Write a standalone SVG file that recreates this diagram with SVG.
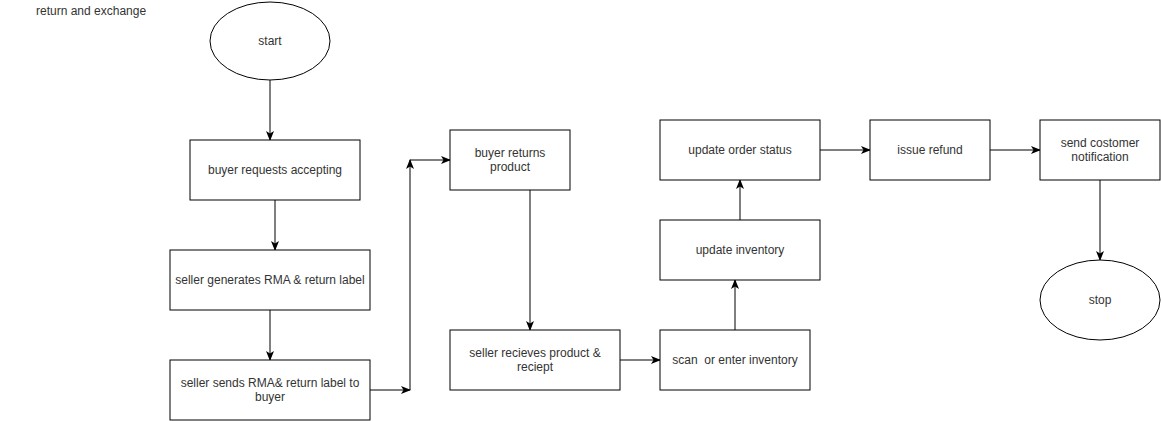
<svg xmlns="http://www.w3.org/2000/svg" width="1161" height="421" viewBox="0 0 1161 421">
<style>
  .shape { fill: #ffffff; stroke: #000000; stroke-width: 1; }
  .label { font-family: "Liberation Sans", Arial, sans-serif; font-size: 12px; fill: #333333; text-anchor: middle; }
  .title { font-family: "Liberation Sans", Arial, sans-serif; font-size: 12px; fill: #333333; }
  .edge { fill: none; stroke: #000000; stroke-width: 1; marker-end: url(#arrow); }
</style>
<defs>
  <marker id="arrow" viewBox="0 0 10 8" refX="9" refY="4" markerWidth="10" markerHeight="8" markerUnits="userSpaceOnUse" orient="auto">
    <path d="M0,0 L10,4 L0,8 L2.5,4 z" fill="#000000"/>
  </marker>
</defs>
<rect x="0" y="0" width="1161" height="421" fill="#ffffff"/>
<text class="title" x="36" y="15">return and exchange</text>

<g id="connectors">
  <line class="edge" x1="270" y1="80" x2="270" y2="140"/>
  <line class="edge" x1="275" y1="200" x2="275" y2="250"/>
  <line class="edge" x1="270" y1="310" x2="270" y2="360"/>
  <line class="edge" x1="370" y1="390" x2="410" y2="390"/>
  <line class="edge" x1="410" y1="390" x2="410" y2="160"/>
  <line class="edge" x1="410" y1="160" x2="450" y2="160"/>
  <line class="edge" x1="530" y1="190" x2="530" y2="330"/>
  <line class="edge" x1="620" y1="360" x2="660" y2="360"/>
  <line class="edge" x1="735" y1="330" x2="735" y2="280"/>
  <line class="edge" x1="740" y1="220" x2="740" y2="180"/>
  <line class="edge" x1="820" y1="150" x2="870" y2="150"/>
  <line class="edge" x1="990" y1="150" x2="1040" y2="150"/>
  <line class="edge" x1="1100" y1="180" x2="1100" y2="260"/>
</g>

<g id="start">
  <ellipse class="shape" cx="270" cy="41" rx="60" ry="39"/>
  <text class="label" x="270" y="45">start</text>
</g>
<g id="buyer-requests">
  <rect class="shape" x="190" y="140" width="170" height="60"/>
  <text class="label" x="275" y="174">buyer requests accepting</text>
</g>
<g id="seller-generates">
  <rect class="shape" x="170" y="250" width="200" height="60"/>
  <text class="label" x="270" y="284">seller generates RMA &amp; return label</text>
</g>
<g id="seller-sends">
  <rect class="shape" x="170" y="360" width="200" height="60"/>
  <text class="label" x="270" y="387">seller sends RMA&amp; return label to</text>
  <text class="label" x="270" y="401">buyer</text>
</g>
<g id="buyer-returns">
  <rect class="shape" x="450" y="130" width="120" height="60"/>
  <text class="label" x="510" y="157">buyer returns</text>
  <text class="label" x="510" y="171">product</text>
</g>
<g id="seller-receives">
  <rect class="shape" x="450" y="330" width="170" height="60"/>
  <text class="label" x="535" y="357">seller recieves product &amp;</text>
  <text class="label" x="535" y="371">reciept</text>
</g>
<g id="scan-inventory">
  <rect class="shape" x="660" y="330" width="150" height="60"/>
  <text class="label" x="735" y="364" xml:space="preserve">scan  or enter inventory</text>
</g>
<g id="update-inventory">
  <rect class="shape" x="660" y="220" width="160" height="60"/>
  <text class="label" x="740" y="254">update inventory</text>
</g>
<g id="update-order-status">
  <rect class="shape" x="660" y="120" width="160" height="60"/>
  <text class="label" x="740" y="154">update order status</text>
</g>
<g id="issue-refund">
  <rect class="shape" x="870" y="120" width="120" height="60"/>
  <text class="label" x="930" y="154">issue refund</text>
</g>
<g id="send-notification">
  <rect class="shape" x="1040" y="120" width="120" height="60"/>
  <text class="label" x="1100" y="147">send costomer</text>
  <text class="label" x="1100" y="161">notification</text>
</g>
<g id="stop">
  <ellipse class="shape" cx="1100" cy="300" rx="60" ry="40"/>
  <text class="label" x="1100" y="304">stop</text>
</g>
</svg>
